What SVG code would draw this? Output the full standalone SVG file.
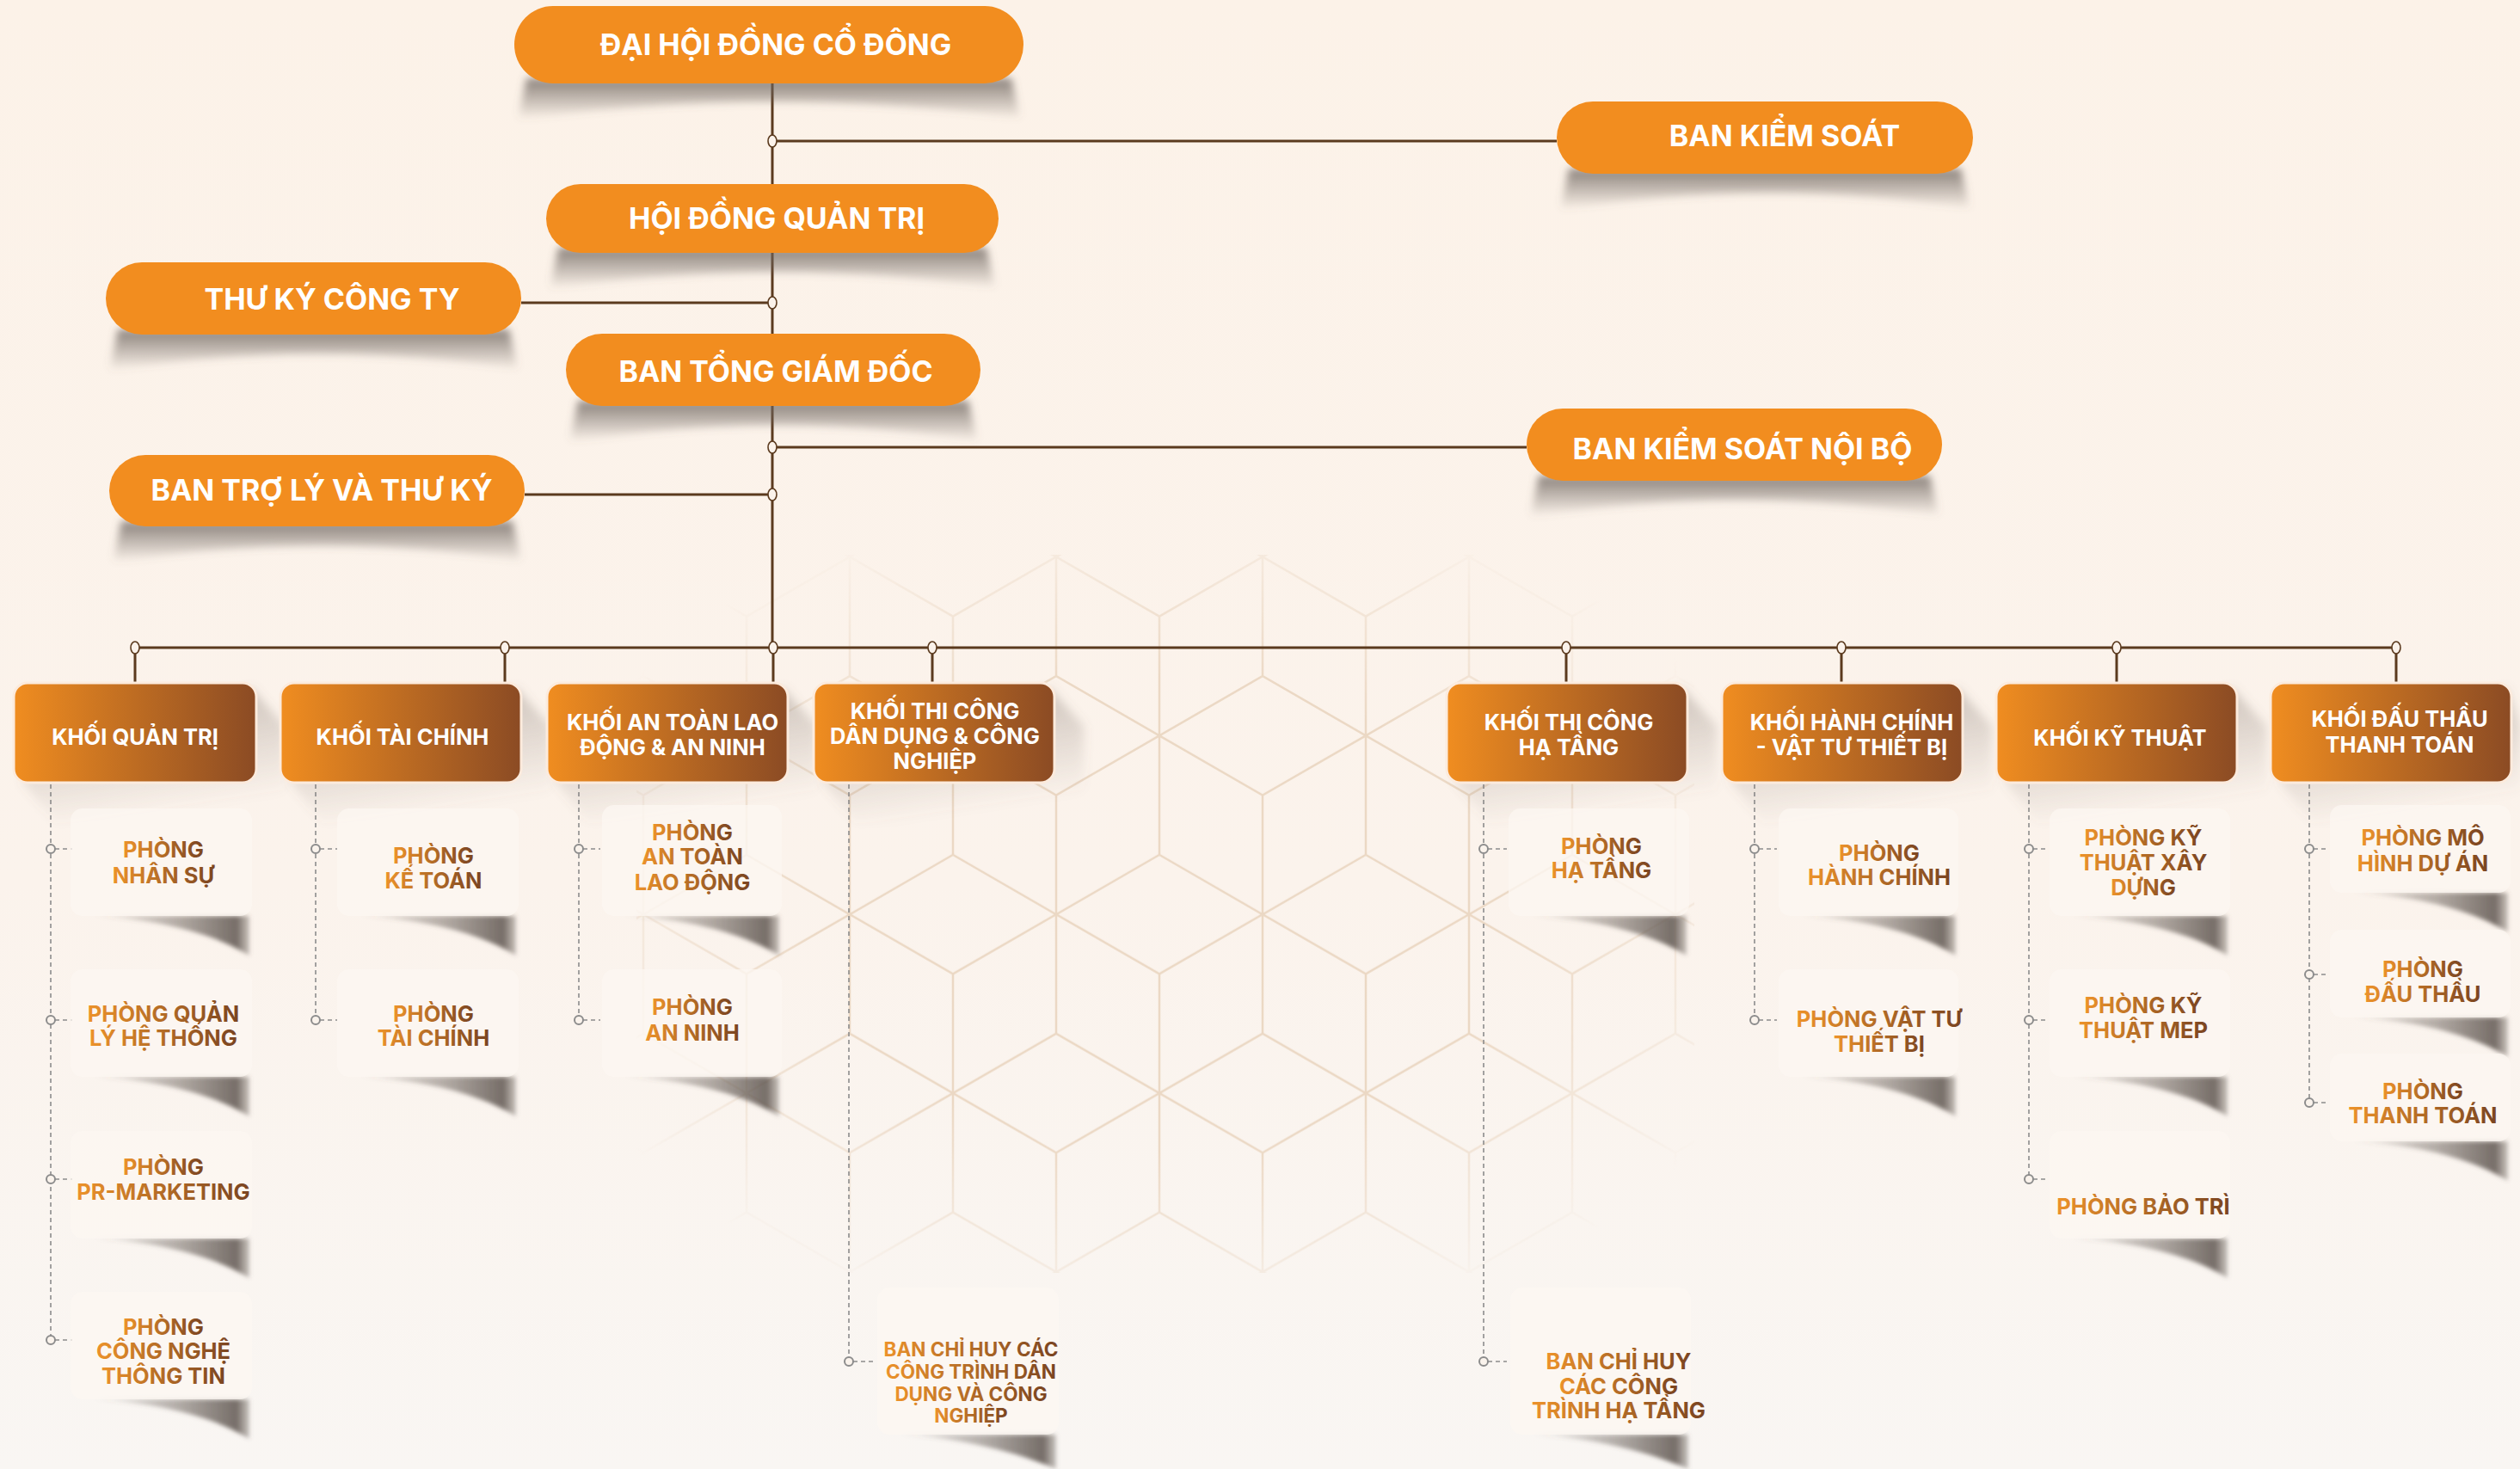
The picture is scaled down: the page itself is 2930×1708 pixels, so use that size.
<svg xmlns="http://www.w3.org/2000/svg" width="2930" height="1708" viewBox="0 0 2930 1708">
<defs>
<style>
.pill{fill:#F28D1F}
.pt{font-family:Inter,"Open Sans","Liberation Sans",sans-serif;font-weight:700;font-size:34px;fill:#fff;text-anchor:middle}
.kb{fill:url(#kg);stroke:#FCEBDD;stroke-width:3}
.kt{font-family:Inter,"Open Sans","Liberation Sans",sans-serif;font-weight:700;font-size:25.5px;fill:#fff;text-anchor:middle}
.card{fill:#FCF7F2;fill-opacity:0.75}
.ct{font-family:Inter,"Open Sans","Liberation Sans",sans-serif;font-weight:700;font-size:25.5px;fill:url(#tg);text-anchor:middle}
.ct20{font-size:22.5px}
.ct23{font-size:25.5px}
.conn{stroke:#5B3A1E;stroke-width:3;fill:none}
.dash{stroke:#8C8C8C;stroke-width:1.6;stroke-dasharray:5 4;fill:none}
.jn{fill:#FBF2EA;stroke:#5B3A1E;stroke-width:1.6}
.jd{fill:#FAF3EC;stroke:#8C8C8C;stroke-width:2}
.ps{fill:url(#psg);filter:url(#b5)}
.ks{fill:url(#ksg);filter:url(#b6)}
.cs{fill:url(#csg);filter:url(#b2)}
.hex{fill:none;stroke:#EBD8C4;stroke-width:2.5}
</style>
<linearGradient id="bg" x1="0" y1="0" x2="0" y2="1"><stop offset="0" stop-color="#FCF2E8"/><stop offset="0.6" stop-color="#FBF3EC"/><stop offset="1" stop-color="#F9F6F3"/></linearGradient>
<linearGradient id="kg" x1="0" y1="0" x2="1" y2="0"><stop offset="0" stop-color="#F08D20"/><stop offset="1" stop-color="#8B4B24"/></linearGradient>
<linearGradient id="tg" x1="0" y1="0" x2="1" y2="0"><stop offset="0" stop-color="#EC922A"/><stop offset="1" stop-color="#7A4421"/></linearGradient>
<linearGradient id="psg" x1="0" y1="0" x2="0" y2="1"><stop offset="0" stop-color="#6E655F" stop-opacity="0.8"/><stop offset="1" stop-color="#6E655F" stop-opacity="0"/></linearGradient>
<linearGradient id="ksg" x1="0" y1="0" x2="0.3" y2="1"><stop offset="0" stop-color="#7A6E66" stop-opacity="0.45"/><stop offset="1" stop-color="#7A6E66" stop-opacity="0"/></linearGradient>
<linearGradient id="csg" x1="0" y1="0" x2="1" y2="0"><stop offset="0" stop-color="#5F5650" stop-opacity="0"/><stop offset="0.55" stop-color="#5F5650" stop-opacity="0.45"/><stop offset="0.92" stop-color="#5F5650" stop-opacity="0.85"/><stop offset="1" stop-color="#5F5650" stop-opacity="0.3"/></linearGradient>
<radialGradient id="mg" cx="0.5" cy="0.5" r="0.6"><stop offset="0" stop-color="#fff"/><stop offset="0.55" stop-color="#fff"/><stop offset="1" stop-color="#000"/></radialGradient>
<mask id="hm"><rect x="740" y="645" width="1230" height="835" fill="url(#mg)"/></mask>
<filter id="b5" x="-20%" y="-60%" width="140%" height="220%"><feGaussianBlur stdDeviation="5"/></filter>
<filter id="b6" x="-20%" y="-30%" width="140%" height="160%"><feGaussianBlur stdDeviation="6"/></filter>
<filter id="b2" x="-10%" y="-30%" width="120%" height="160%"><feGaussianBlur stdDeviation="2.5"/></filter>
<pattern id="hexp" patternUnits="userSpaceOnUse" x="1468" y="786" width="240" height="415.69">
<path class="hex" d="M0,-138.56 L120,-69.28 L120,69.28 L0,138.56 L-120,69.28 L-120,-69.28 Z M0,0 L0,-138.56 M0,0 L-120,69.28 M0,0 L120,69.28
M240,-138.56 L360,-69.28 L360,69.28 L240,138.56 L120,69.28 L120,-69.28 Z M240,0 L240,-138.56 M240,0 L120,69.28 M240,0 L360,69.28
M120,69.29 L240,138.57 L240,277.13 L120,346.41 L0,277.13 L0,138.57 Z M120,207.85 L120,69.29 M120,207.85 L0,277.13 M120,207.85 L240,277.13
M-120,69.29 L0,138.57 L0,277.13 L-120,346.41 L-240,277.13 L-240,138.57 Z M-120,207.85 L-120,69.29 M-120,207.85 L-240,277.13 M-120,207.85 L0,277.13
M360,69.29 L480,138.57 L480,277.13 L360,346.41 L240,277.13 L240,138.57 Z M360,207.85 L360,69.29 M360,207.85 L240,277.13 M360,207.85 L480,277.13
M0,277.13 L120,346.41 L120,484.97 L0,554.25 L-120,484.97 L-120,346.41 Z M0,415.69 L0,277.13 M0,415.69 L-120,484.97 M0,415.69 L120,484.97
M240,277.13 L360,346.41 L360,484.97 L240,554.25 L120,484.97 L120,346.41 Z M240,415.69 L240,277.13 M240,415.69 L120,484.97 M240,415.69 L360,484.97"/>
</pattern>
</defs>

<rect x="0" y="0" width="2930" height="1708" fill="url(#bg)"/>
<rect x="740" y="645" width="1230" height="835" fill="url(#hexp)" mask="url(#hm)"/>

<g id="connectors">
<path class="conn" d="M898,97 V753 M157,753 H2786 M898,164 H1810 M606,352 H898 M898,520 H1775 M610,575 H898 M157,753 V794 M587,753 V794 M899,753 V794 M1084,753 V794 M1821,753 V794 M2141,753 V794 M2461,753 V794 M2786,753 V794"/>
<ellipse class="jn" cx="898" cy="164" rx="5" ry="7"/>
<ellipse class="jn" cx="898" cy="352" rx="5" ry="7"/>
<ellipse class="jn" cx="898" cy="520" rx="5" ry="7"/>
<ellipse class="jn" cx="898" cy="575" rx="5" ry="7"/>
<ellipse class="jn" cx="157" cy="753" rx="5" ry="7"/>
<ellipse class="jn" cx="587" cy="753" rx="5" ry="7"/>
<ellipse class="jn" cx="899" cy="753" rx="5" ry="7"/>
<ellipse class="jn" cx="1084" cy="753" rx="5" ry="7"/>
<ellipse class="jn" cx="1821" cy="753" rx="5" ry="7"/>
<ellipse class="jn" cx="2141" cy="753" rx="5" ry="7"/>
<ellipse class="jn" cx="2461" cy="753" rx="5" ry="7"/>
<ellipse class="jn" cx="2786" cy="753" rx="5" ry="7"/>
<path class="dash" d="M59,912 V1558 M64,987 H84 M64,1186 H84 M64,1371 H84 M64,1558 H84
M367,912 V1186 M372,987 H392 M372,1186 H392
M673,912 V1186 M678,987 H698 M678,1186 H698
M987,912 V1583 M992,1583 H1016
M1725,912 V1583 M1730,987 H1752 M1730,1583 H1752
M2040,912 V1186 M2045,987 H2066 M2045,1186 H2066
M2359,912 V1371 M2364,987 H2381 M2364,1186 H2381 M2364,1371 H2381
M2685,912 V1282 M2690,987 H2707 M2690,1133 H2707 M2690,1282 H2707"/>
<circle class="jd" cx="59" cy="987" r="5"/><circle class="jd" cx="59" cy="1186" r="5"/><circle class="jd" cx="59" cy="1371" r="5"/><circle class="jd" cx="59" cy="1558" r="5"/>
<circle class="jd" cx="367" cy="987" r="5"/><circle class="jd" cx="367" cy="1186" r="5"/>
<circle class="jd" cx="673" cy="987" r="5"/><circle class="jd" cx="673" cy="1186" r="5"/>
<circle class="jd" cx="987" cy="1583" r="5"/>
<circle class="jd" cx="1725" cy="987" r="5"/><circle class="jd" cx="1725" cy="1583" r="5"/>
<circle class="jd" cx="2040" cy="987" r="5"/><circle class="jd" cx="2040" cy="1186" r="5"/>
<circle class="jd" cx="2359" cy="987" r="5"/><circle class="jd" cx="2359" cy="1186" r="5"/><circle class="jd" cx="2359" cy="1371" r="5"/>
<circle class="jd" cx="2685" cy="987" r="5"/><circle class="jd" cx="2685" cy="1133" r="5"/><circle class="jd" cx="2685" cy="1282" r="5"/>
</g>

<g id="dai-hoi-dong-co-dong">
<path class="ps" d="M612,91 L1176,91 L1186,137 Q894,99 602,139 Z"/>
<rect class="pill" x="598" y="7" width="592" height="90" rx="45"/>
<text class="pt" x="902" y="64">ĐẠI HỘI ĐỒNG CỔ ĐÔNG</text>
</g>
<g id="ban-kiem-soat">
<path class="ps" d="M1824,196 L2280,196 L2290,242 Q2052,206 1814,244 Z"/>
<rect class="pill" x="1810" y="118" width="484" height="84" rx="42"/>
<text class="pt" x="2075" y="170">BAN KIỂM SOÁT</text>
</g>
<g id="hoi-dong-quan-tri">
<path class="ps" d="M649,288 L1147,288 L1157,334 Q898,298 639,336 Z"/>
<rect class="pill" x="635" y="214" width="526" height="80" rx="40"/>
<text class="pt" x="903" y="266">HỘI ĐỒNG QUẢN TRỊ</text>
</g>
<g id="thu-ky-cong-ty">
<path class="ps" d="M137,383 L592,383 L602,429 Q365,393 127,431 Z"/>
<rect class="pill" x="123" y="305" width="483" height="84" rx="42"/>
<text class="pt" x="386" y="360">THƯ KÝ CÔNG TY</text>
</g>
<g id="ban-tong-giam-doc">
<path class="ps" d="M672,466 L1126,466 L1136,512 Q899,476 662,514 Z"/>
<rect class="pill" x="658" y="388" width="482" height="84" rx="42"/>
<text class="pt" x="902" y="444">BAN TỔNG GIÁM ĐỐC</text>
</g>
<g id="ban-kiem-soat-noi-bo">
<path class="ps" d="M1789,553 L2244,553 L2254,599 Q2016,563 1779,601 Z"/>
<rect class="pill" x="1775" y="475" width="483" height="84" rx="42"/>
<text class="pt" x="2026" y="534">BAN KIỂM SOÁT NỘI BỘ</text>
</g>
<g id="ban-tro-ly-va-thu-ky">
<path class="ps" d="M141,606 L596,606 L606,652 Q368,616 131,654 Z"/>
<rect class="pill" x="127" y="529" width="483" height="83" rx="42"/>
<text class="pt" x="374" y="582">BAN TRỢ LÝ VÀ THƯ KÝ</text>
</g>

<g id="khoi-quan-tri">
<path class="ks" d="M24,906 L64,956 L331,956 L331,844 L292,800 Z"/>
<rect class="kb" x="16" y="794" width="282" height="116" rx="16"/>
<text class="kt" x="157" y="866">KHỐI QUẢN TRỊ</text>
</g>
<g id="khoi-tai-chinh">
<path class="ks" d="M335,906 L375,956 L640,956 L640,844 L600,800 Z"/>
<rect class="kb" x="326" y="794" width="280" height="116" rx="16"/>
<text class="kt" x="468" y="866">KHỐI TÀI CHÍNH</text>
</g>
<g id="khoi-an-toan-lao-dong-an-ninh">
<path class="ks" d="M644,906 L684,956 L950,956 L950,844 L910,800 Z"/>
<rect class="kb" x="636" y="794" width="280" height="116" rx="16"/>
<text class="kt" x="782" y="849">KHỐI AN TOÀN LAO</text>
<text class="kt" x="782" y="878">ĐỘNG &amp; AN NINH</text>
</g>
<g id="khoi-thi-cong-dan-dung">
<path class="ks" d="M954,906 L994,956 L1260,956 L1260,844 L1220,800 Z"/>
<rect class="kb" x="946" y="794" width="280" height="116" rx="16"/>
<text class="kt" x="1087" y="836">KHỐI THI CÔNG</text>
<text class="kt" x="1087" y="865">DÂN DỤNG &amp; CÔNG</text>
<text class="kt" x="1087" y="894">NGHIỆP</text>
</g>
<g id="khoi-thi-cong-ha-tang">
<path class="ks" d="M1690,906 L1730,956 L1996,956 L1996,844 L1956,800 Z"/>
<rect class="kb" x="1682" y="794" width="280" height="116" rx="16"/>
<text class="kt" x="1824" y="849">KHỐI THI CÔNG</text>
<text class="kt" x="1824" y="878">HẠ TẦNG</text>
</g>
<g id="khoi-hanh-chinh">
<path class="ks" d="M2010,906 L2050,956 L2316,956 L2316,844 L2276,800 Z"/>
<rect class="kb" x="2002" y="794" width="280" height="116" rx="16"/>
<text class="kt" x="2153" y="849">KHỐI HÀNH CHÍNH</text>
<text class="kt" x="2153" y="878">- VẬT TƯ THIẾT BỊ</text>
</g>
<g id="khoi-ky-thuat">
<path class="ks" d="M2329,906 L2369,956 L2635,956 L2635,844 L2595,800 Z"/>
<rect class="kb" x="2321" y="794" width="280" height="116" rx="16"/>
<text class="kt" x="2465" y="867">KHỐI KỸ THUẬT</text>
</g>
<g id="khoi-dau-thau">
<path class="ks" d="M2648,906 L2688,956 L2930,956 L2930,844 L2914,800 Z"/>
<rect class="kb" x="2640" y="794" width="280" height="116" rx="16"/>
<text class="kt" x="2790" y="845">KHỐI ĐẤU THẦU</text>
<text class="kt" x="2790" y="875">THANH TOÁN</text>
</g>

<g id="phong-nhan-su">
<path class="cs" d="M102,1065 L290,1065 L290,1111 C248,1085 182,1068 102,1065 Z"/>
<rect class="card" x="82" y="940" width="211" height="125" rx="14"/>
<text class="ct" x="190" y="997">PHÒNG</text><text class="ct" x="190" y="1027">NHÂN SỰ</text>
</g>
<g id="phong-quan-ly-he-thong">
<path class="cs" d="M102,1252 L290,1252 L290,1298 C248,1272 182,1255 102,1252 Z"/>
<rect class="card" x="82" y="1127" width="211" height="125" rx="14"/>
<text class="ct" x="190" y="1188">PHÒNG QUẢN</text><text class="ct" x="190" y="1216">LÝ HỆ THỐNG</text>
</g>
<g id="phong-pr-marketing">
<path class="cs" d="M102,1440 L290,1440 L290,1486 C248,1460 182,1443 102,1440 Z"/>
<rect class="card" x="82" y="1315" width="211" height="125" rx="14"/>
<text class="ct" x="190" y="1366">PHÒNG</text><text class="ct" x="190" y="1395">PR-MARKETING</text>
</g>
<g id="phong-cong-nghe-thong-tin">
<path class="cs" d="M102,1627 L290,1627 L290,1673 C248,1647 182,1630 102,1627 Z"/>
<rect class="card" x="82" y="1502" width="211" height="125" rx="14"/>
<text class="ct" x="190" y="1552">PHÒNG</text><text class="ct" x="190" y="1580">CÔNG NGHỆ</text><text class="ct" x="190" y="1609">THÔNG TIN</text>
</g>

<g id="phong-ke-toan">
<path class="cs" d="M412,1065 L600,1065 L600,1111 C558,1085 492,1068 412,1065 Z"/>
<rect class="card" x="392" y="940" width="211" height="125" rx="14"/>
<text class="ct" x="504" y="1004">PHÒNG</text><text class="ct" x="504" y="1033">KẾ TOÁN</text>
</g>
<g id="phong-tai-chinh">
<path class="cs" d="M412,1252 L600,1252 L600,1298 C558,1272 492,1255 412,1252 Z"/>
<rect class="card" x="392" y="1127" width="211" height="125" rx="14"/>
<text class="ct" x="504" y="1188">PHÒNG</text><text class="ct" x="504" y="1216">TÀI CHÍNH</text>
</g>

<g id="phong-an-toan-lao-dong">
<path class="cs" d="M720,1065 L906,1065 L906,1111 C864,1085 800,1068 720,1065 Z"/>
<rect class="card" x="700" y="936" width="209" height="129" rx="14"/>
<text class="ct" x="805" y="977">PHÒNG</text><text class="ct" x="805" y="1005">AN TOÀN</text><text class="ct" x="805" y="1035">LAO ĐỘNG</text>
</g>
<g id="phong-an-ninh">
<path class="cs" d="M720,1252 L906,1252 L906,1298 C864,1272 800,1255 720,1252 Z"/>
<rect class="card" x="700" y="1127" width="209" height="125" rx="14"/>
<text class="ct" x="805" y="1180">PHÒNG</text><text class="ct" x="805" y="1210">AN NINH</text>
</g>

<g id="ban-chi-huy-dan-dung">
<path class="cs" d="M1040,1668 L1228,1668 L1228,1708 C1186,1690 1120,1671 1040,1668 Z"/>
<rect class="card" x="1020" y="1497" width="211" height="171" rx="14"/>
<text class="ct ct20" x="1129" y="1577">BAN CHỈ HUY CÁC</text><text class="ct ct20" x="1129" y="1603">CÔNG TRÌNH DÂN</text><text class="ct ct20" x="1129" y="1629">DỤNG VÀ CÔNG</text><text class="ct ct20" x="1129" y="1654">NGHIỆP</text>
</g>

<g id="phong-ha-tang">
<path class="cs" d="M1774,1065 L1961,1065 L1961,1111 C1919,1085 1854,1068 1774,1065 Z"/>
<rect class="card" x="1754" y="940" width="210" height="125" rx="14"/>
<text class="ct" x="1862" y="993">PHÒNG</text><text class="ct" x="1862" y="1021">HẠ TẦNG</text>
</g>
<g id="ban-chi-huy-ha-tang">
<path class="cs" d="M1776,1668 L1963,1668 L1963,1708 C1921,1690 1856,1671 1776,1668 Z"/>
<rect class="card" x="1756" y="1497" width="210" height="171" rx="14"/>
<text class="ct ct23" x="1882" y="1592">BAN CHỈ HUY</text><text class="ct ct23" x="1882" y="1621">CÁC CÔNG</text><text class="ct ct23" x="1882" y="1649">TRÌNH HẠ TẦNG</text>
</g>

<g id="phong-hanh-chinh">
<path class="cs" d="M2088,1065 L2274,1065 L2274,1111 C2232,1085 2168,1068 2088,1065 Z"/>
<rect class="card" x="2068" y="940" width="209" height="125" rx="14"/>
<text class="ct" x="2185" y="1001">PHÒNG</text><text class="ct" x="2185" y="1029">HÀNH CHÍNH</text>
</g>
<g id="phong-vat-tu-thiet-bi">
<path class="cs" d="M2088,1252 L2274,1252 L2274,1298 C2232,1272 2168,1255 2088,1252 Z"/>
<rect class="card" x="2068" y="1127" width="209" height="125" rx="14"/>
<text class="ct" x="2185" y="1194">PHÒNG VẬT TƯ</text><text class="ct" x="2185" y="1223">THIẾT BỊ</text>
</g>

<g id="phong-ky-thuat-xay-dung">
<path class="cs" d="M2403,1065 L2590,1065 L2590,1111 C2548,1085 2483,1068 2403,1065 Z"/>
<rect class="card" x="2383" y="940" width="210" height="125" rx="14"/>
<text class="ct" x="2492" y="983">PHÒNG KỸ</text><text class="ct" x="2492" y="1012">THUẬT XÂY</text><text class="ct" x="2492" y="1041">DỰNG</text>
</g>
<g id="phong-ky-thuat-mep">
<path class="cs" d="M2403,1252 L2590,1252 L2590,1298 C2548,1272 2483,1255 2403,1252 Z"/>
<rect class="card" x="2383" y="1127" width="210" height="125" rx="14"/>
<text class="ct" x="2492" y="1178">PHÒNG KỸ</text><text class="ct" x="2492" y="1207">THUẬT MEP</text>
</g>
<g id="phong-bao-tri">
<path class="cs" d="M2403,1440 L2590,1440 L2590,1486 C2548,1460 2483,1443 2403,1440 Z"/>
<rect class="card" x="2383" y="1315" width="210" height="125" rx="14"/>
<text class="ct" x="2492" y="1412">PHÒNG BẢO TRÌ</text>
</g>

<g id="phong-mo-hinh-du-an">
<path class="cs" d="M2729,1038 L2916,1038 L2916,1084 C2874,1058 2809,1041 2729,1038 Z"/>
<rect class="card" x="2709" y="936" width="210" height="102" rx="14"/>
<text class="ct" x="2817" y="983">PHÒNG MÔ</text><text class="ct" x="2817" y="1013">HÌNH DỰ ÁN</text>
</g>
<g id="phong-dau-thau">
<path class="cs" d="M2729,1183 L2916,1183 L2916,1229 C2874,1203 2809,1186 2729,1183 Z"/>
<rect class="card" x="2709" y="1081" width="210" height="102" rx="14"/>
<text class="ct" x="2817" y="1136">PHÒNG</text><text class="ct" x="2817" y="1165">ĐẤU THẦU</text>
</g>
<g id="phong-thanh-toan">
<path class="cs" d="M2729,1327 L2916,1327 L2916,1373 C2874,1347 2809,1330 2729,1327 Z"/>
<rect class="card" x="2709" y="1225" width="210" height="102" rx="14"/>
<text class="ct" x="2817" y="1278">PHÒNG</text><text class="ct" x="2817" y="1306">THANH TOÁN</text>
</g>
</svg>
